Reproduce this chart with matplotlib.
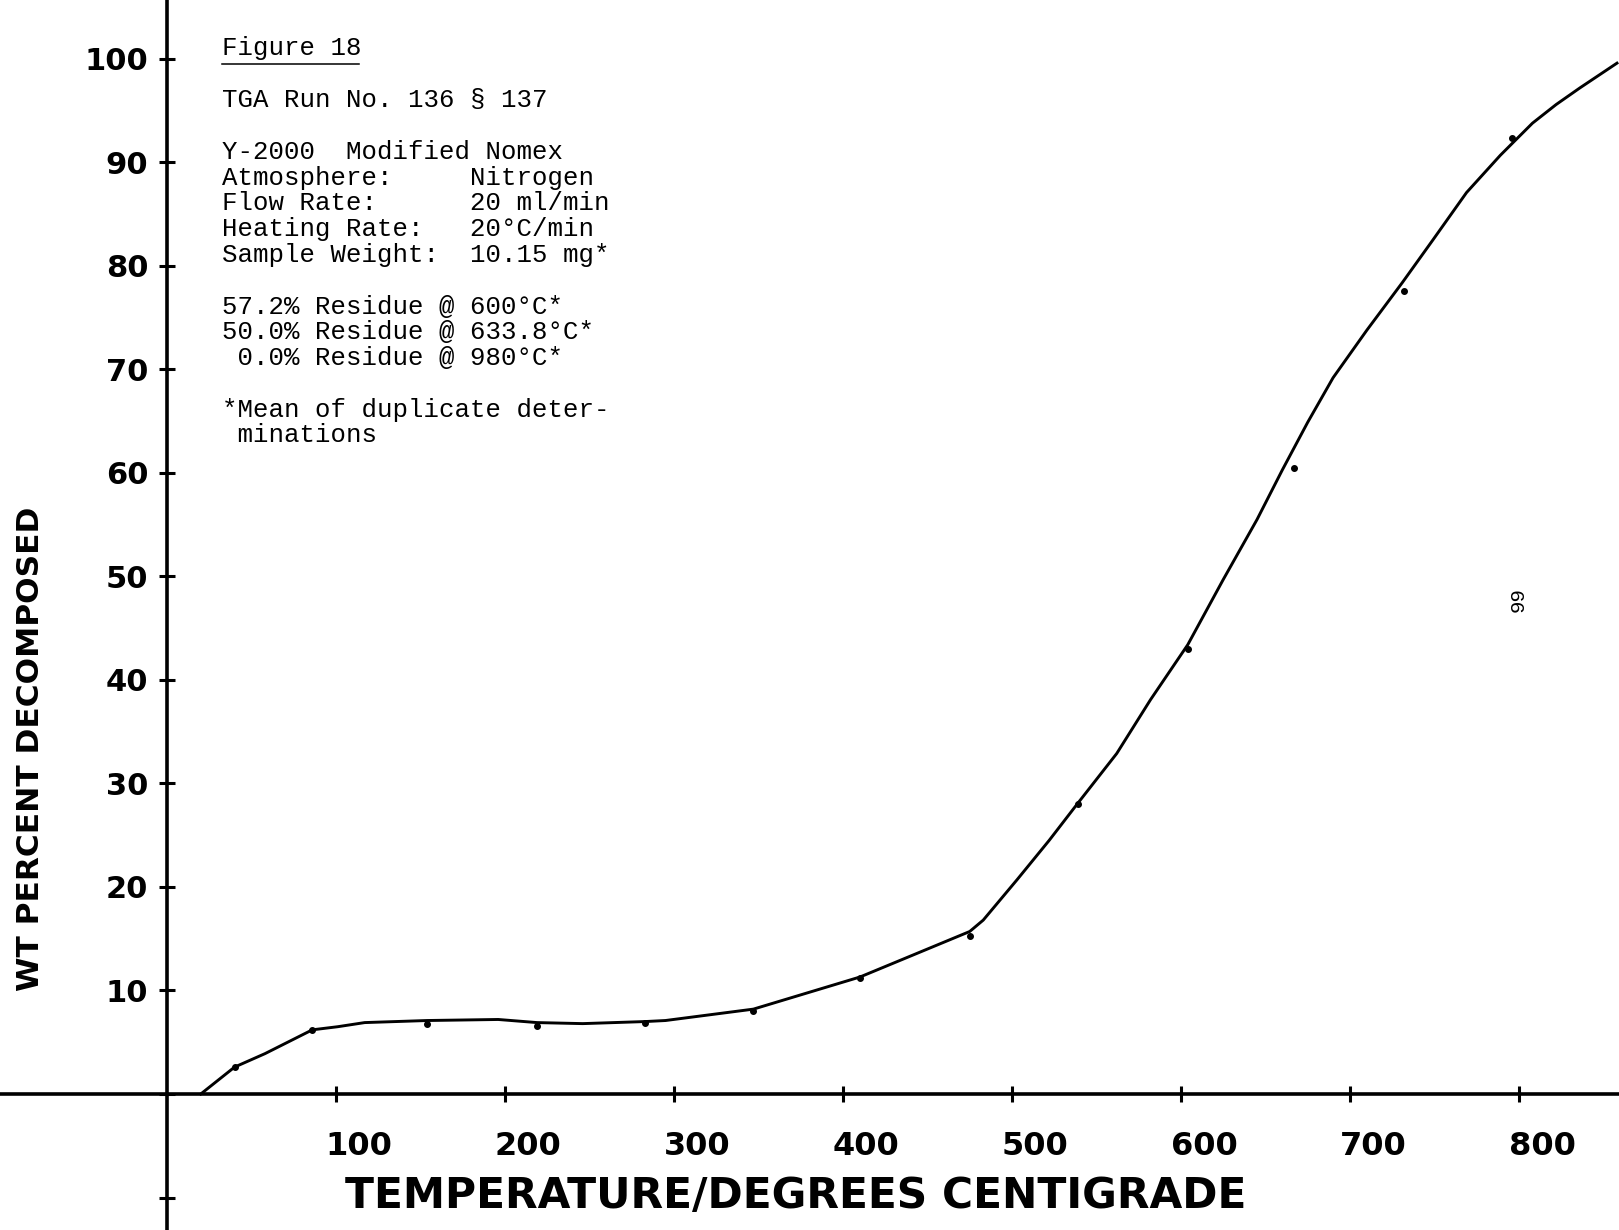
import matplotlib
matplotlib.use('Agg')
import matplotlib.pyplot as plt
import matplotlib.transforms as mtransforms
from matplotlib.lines import Line2D

# curva trazada (grados C, % descompuesto)
curve_x = [20, 40, 58, 86, 101, 117, 154, 196, 219, 246, 283, 295, 347, 410, 444,
           475, 483, 503, 522, 539, 562, 582, 604, 625, 645, 660, 675, 690, 710, 731,
           749, 769, 789, 808, 822, 836, 858]
curve_y = [0, 2.6, 3.9, 6.2, 6.5, 6.9, 7.1, 7.2, 6.9, 6.8, 7.0, 7.1, 8.2, 11.3, 13.6,
           15.7, 16.8, 20.7, 24.5, 28.1, 32.9, 38.1, 43.4, 49.7, 55.5, 60.3, 64.9, 69.2, 73.8, 78.4,
           82.5, 87.1, 90.7, 93.8, 95.6, 97.2, 99.6]

# puntos medidos
pts_x = [40, 86, 154, 219, 283, 347, 410, 475, 539, 604, 667, 732, 796]
pts_y = [2.6, 6.2, 6.8, 6.6, 6.9, 8.0, 11.2, 15.3, 28.0, 43.0, 60.5, 77.6, 92.4]

xticks = [100, 200, 300, 400, 500, 600, 700, 800]
xticklabels = ['100', '200', '300', '400', '500', '600', '700', '800']
yticks = [-10, 0, 10, 20, 30, 40, 50, 60, 70, 80, 90, 100]
yticklabels = ['', '', '10', '20', '30', '40', '50', '60', '70', '80', '90', '100']

notes = ['Figure 18', '', 'TGA Run No. 136 § 137', '',
         'Y-2000  Modified Nomex',
         'Atmosphere:     Nitrogen',
         'Flow Rate:      20 ml/min',
         'Heating Rate:   20°C/min',
         'Sample Weight:  10.15 mg*', '',
         '57.2% Residue @ 600°C*',
         '50.0% Residue @ 633.8°C*',
         ' 0.0% Residue @ 980°C*', '',
         '*Mean of duplicate deter-',
         ' minations']

W, H = 1619, 1230
fig = plt.figure(figsize=(W / 100, H / 100), dpi=100)
ax = fig.add_axes([0, 0, 1, 1])
ax.set_xlim(-98.8, 859.2)
ax.set_ylim(-13.14, 105.7)

# ejes tipo plotter cruzando en el origen
for s in ['top', 'right']:
    ax.spines[s].set_visible(False)
ax.spines['left'].set_position(('data', 0))
ax.spines['bottom'].set_position(('data', 0))
ax.spines['left'].set_linewidth(2.6)
ax.spines['bottom'].set_linewidth(2.6)

ax.set_xticks(xticks, labels=xticklabels, family='DejaVu Sans', weight='bold', size=23)
ax.set_yticks(yticks, labels=yticklabels, family='DejaVu Sans', weight='bold', size=22)
ax.tick_params(axis='both', direction='inout', length=11, width=2.2)
ax.tick_params(axis='x', pad=21)
ax.tick_params(axis='y', pad=8)
shift = mtransforms.ScaledTranslation(0.23, 0, fig.dpi_scale_trans)
for lab in ax.get_xticklabels():
    lab.set_transform(lab.get_transform() + shift)

ax.plot(curve_x, curve_y, color='black', lw=2.1, solid_joinstyle='round')
ax.plot(pts_x, pts_y, 'o', color='black', ms=4)

fig.text(796 / W, 1 - 1196 / H, 'TEMPERATURE/DEGREES CENTIGRADE', ha='center', va='center',
         family='DejaVu Sans', weight='bold', size=30.5)
fig.text(31 / W, 1 - 749 / H, 'WT PERCENT DECOMPOSED', ha='center', va='center',
         rotation=90, family='DejaVu Sans', weight='bold', size=22.5)

# bloque de notas
for i, line in enumerate(notes):
    if line:
        fig.text(222 / W, 1 - (48.5 + i * 25.8) / H, line, ha='left', va='center',
                 family='Liberation Mono', size=18.5)
fig.add_artist(Line2D([222 / W, 359 / W], [1 - 64 / H, 1 - 64 / H],
                      transform=fig.transFigure, color='black', lw=1.1))

fig.text(1518 / W, 1 - 599 / H, '99', ha='center', va='center', rotation=90,
         family='Liberation Mono', size=15)

fig.savefig('out.png', dpi=100)
